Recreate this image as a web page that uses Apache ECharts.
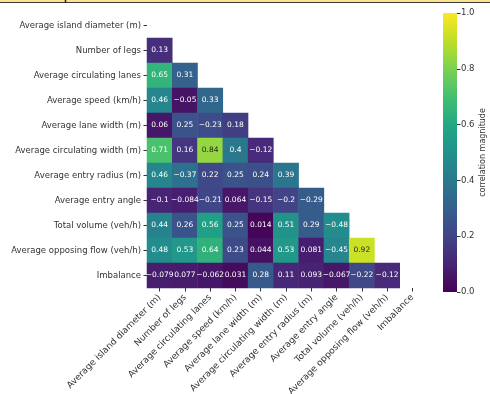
<!DOCTYPE html>
<html>
<head>
<meta charset="utf-8">
<style>
  html, body { margin: 0; padding: 0; background: #fff; }
  #chart { width: 490px; height: 394px; }
</style>
<script src="https://cdn.jsdelivr.net/npm/echarts@6/dist/echarts.min.js"></script>
</head>
<body>
<div id="chart"></div>
<script>
// Variable names (same order for rows and columns)
const variables = [
  'Average island diameter (m)',
  'Number of legs',
  'Average circulating lanes',
  'Average speed (km/h)',
  'Average lane width (m)',
  'Average circulating width (m)',
  'Average entry radius (m)',
  'Average entry angle',
  'Total volume (veh/h)',
  'Average opposing flow (veh/h)',
  'Imbalance'
];

// Lower triangle of the correlation matrix, row by row (row i holds columns 0..i-1)
const corrRow1  = [0.13];
const corrRow2  = [0.65, 0.31];
const corrRow3  = [0.46, -0.05, 0.33];
const corrRow4  = [0.06, 0.25, -0.23, 0.18];
const corrRow5  = [0.71, 0.16, 0.84, 0.4, -0.12];
const corrRow6  = [0.46, -0.37, 0.22, 0.25, 0.24, 0.39];
const corrRow7  = [-0.1, -0.084, -0.21, 0.064, -0.15, -0.2, -0.29];
const corrRow8  = [0.44, 0.26, 0.56, 0.25, 0.014, 0.51, 0.29, -0.48];
const corrRow9  = [0.48, 0.53, 0.64, 0.23, 0.044, 0.53, 0.081, -0.45, 0.92];
const corrRow10 = [-0.079, 0.077, -0.062, 0.031, 0.28, 0.11, 0.093, -0.067, -0.22, -0.12];

const lowerRows = [[], corrRow1, corrRow2, corrRow3, corrRow4, corrRow5,
                   corrRow6, corrRow7, corrRow8, corrRow9, corrRow10];

// Colour bar ticks
const colorbarTicks = [0, 0.2, 0.4, 0.6, 0.8, 1.0];

// Viridis colour stops
const viridis = ['#440154', '#482475', '#414487', '#355f8d', '#2a788e', '#21918c',
                 '#22a884', '#44bf70', '#7ad151', '#bddf26', '#fde725'];

// Heatmap items: [column, row, |r|, r]; colour driven by magnitude, label shows signed value
const cells = [];
lowerRows.forEach((row, i) => {
  row.forEach((r, j) => {
    cells.push({
      value: [j, i, Math.abs(r), r],
      label: { color: Math.abs(r) > 0.78 ? '#262626' : '#ffffff' }
    });
  });
});

// Signed value with a typographic minus sign
const fmtSigned = v => (v < 0 ? '\u2212' : '') + String(Math.abs(v));

const chart = echarts.init(document.getElementById('chart'), null, { renderer: 'canvas' });
const font = 'DejaVu Sans';
const textColor = '#333333';

chart.setOption({
  backgroundColor: '#ffffff',
  animation: false,
  textStyle: { fontFamily: font },
  grid: [
    { left: 147, top: 13, width: 278, height: 275, outerBoundsMode: 'none', containLabel: false },
    { left: 443, top: 13, width: 14, height: 279, outerBoundsMode: 'none', containLabel: false }
  ],
  xAxis: [
    {
      type: 'category', gridIndex: 0, data: variables,
      axisLine: { show: false },
      axisTick: { show: true, alignWithLabel: true, length: 3.5, lineStyle: { color: textColor } },
      axisLabel: { rotate: 45, fontSize: 9, color: textColor, fontFamily: font, margin: 8, interval: 0 },
      splitLine: { show: false }
    },
    {
      type: 'category', gridIndex: 1, data: ['scale'],
      show: false
    }
  ],
  yAxis: [
    {
      type: 'category', gridIndex: 0, data: variables, inverse: true,
      axisLine: { show: false },
      axisTick: { show: true, alignWithLabel: true, length: 3.5, lineStyle: { color: textColor } },
      axisLabel: { fontSize: 8.5, color: textColor, fontFamily: font, margin: 6, interval: 0 },
      splitLine: { show: false }
    },
    {
      type: 'value', gridIndex: 1, position: 'right', min: 0, max: 1, interval: 0.2,
      axisLine: { show: false },
      axisTick: { show: true, length: 3.5, lineStyle: { color: textColor } },
      axisLabel: {
        fontSize: 8.5, color: textColor, fontFamily: font, margin: 4,
        formatter: v => colorbarTicks.some(t => Math.abs(t - v) < 1e-9) ? v.toFixed(1) : ''
      },
      splitLine: { show: false },
      name: 'correlation magnitude',
      nameLocation: 'middle',
      nameRotate: 90,
      nameGap: 22,
      nameTextStyle: { fontSize: 8, color: textColor, fontFamily: font }
    }
  ],
  visualMap: {
    show: false,
    type: 'continuous',
    seriesIndex: 0,
    dimension: 2,
    min: 0,
    max: 1,
    inRange: { color: viridis }
  },
  series: [
    {
      type: 'heatmap',
      xAxisIndex: 0,
      yAxisIndex: 0,
      data: cells,
      label: {
        show: true,
        fontSize: 7.5,
        fontFamily: font,
        formatter: p => fmtSigned(p.value[3])
      },
      itemStyle: { borderWidth: 0 }
    },
    {
      type: 'bar',
      xAxisIndex: 1,
      yAxisIndex: 1,
      data: [1],
      barWidth: '100%',
      silent: true,
      itemStyle: {
        color: new echarts.graphic.LinearGradient(0, 1, 0, 0,
          viridis.map((c, k) => ({ offset: k / (viridis.length - 1), color: c })))
      }
    }
  ],
  graphic: [
    { type: 'rect', shape: { x: 0, y: 0, width: 490, height: 2 }, style: { fill: '#fbe28c' }, silent: true },
    { type: 'line', shape: { x1: 0, y1: 2.5, x2: 490, y2: 2.5 }, style: { stroke: '#3a3a3a', lineWidth: 1 }, silent: true },
    { type: 'line', shape: { x1: 65.5, y1: 0, x2: 65.5, y2: 3 }, style: { stroke: '#222', lineWidth: 1.5 }, silent: true }
  ]
});
</script>
</body>
</html>
